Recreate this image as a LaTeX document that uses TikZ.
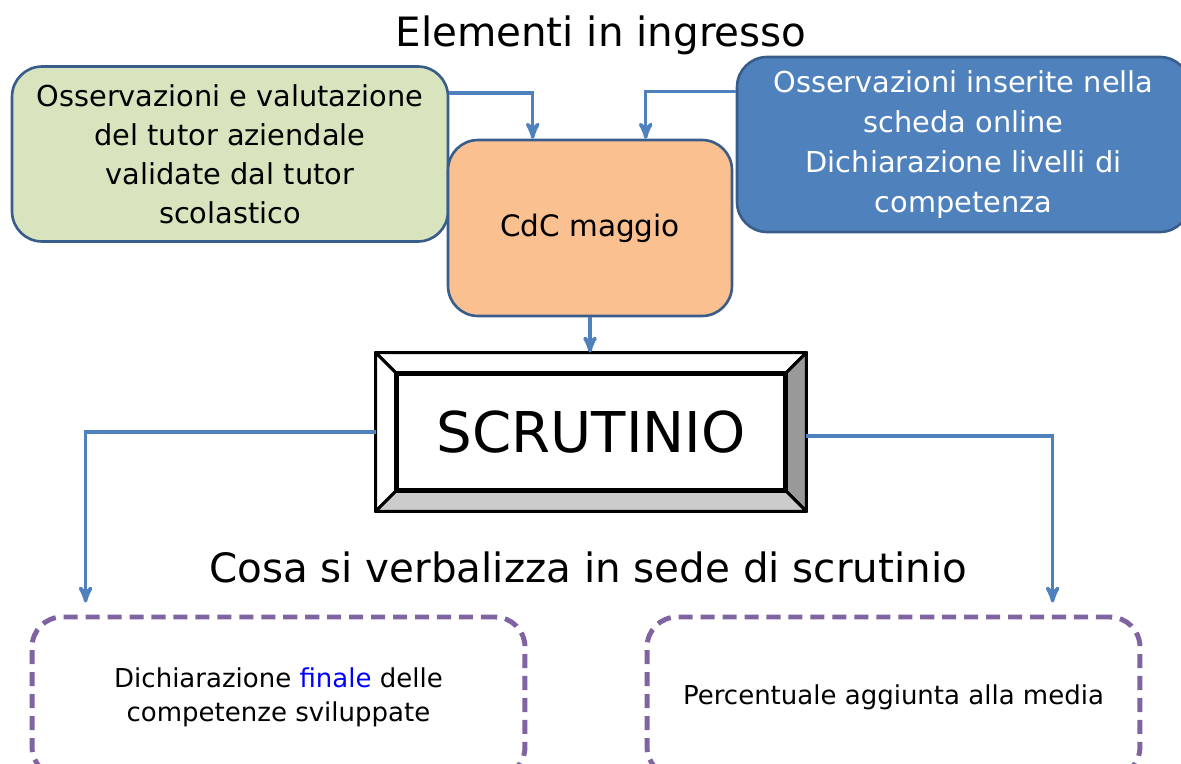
\documentclass[tikz,border=0pt]{standalone}
\usepackage{fontspec}
\setmainfont{DejaVu Sans}
\usetikzlibrary{arrows,calc}
\definecolor{tutorgreen}{HTML}{D7E4BD}
\definecolor{cdcorange}{HTML}{FAC090}
\definecolor{onlineblue}{HTML}{4F81BD}
\definecolor{boxline}{HTML}{385D8A}
\definecolor{flowblue}{HTML}{4F81BD}
\definecolor{verbpurple}{HTML}{8064A2}
\definecolor{bevelright}{HTML}{999999}
\definecolor{bevelbottom}{HTML}{CCCCCC}

\begin{document}
\begin{tikzpicture}[x=0.02cm,y=-0.02cm]
\tikzset{box/.style = {draw=boxline,line width=1.5pt,rounded corners=0.6cm,align=center,inner sep=0pt}}
\tikzset{verb/.style = {draw=verbpurple,line width=2.8pt,dash pattern=on 8pt off 4.5pt,rounded corners=0.6cm,align=center,
  minimum width=9.86cm,minimum height=3.2cm,font=\fontsize{14.8}{19.5}\selectfont}}
\tikzset{edge/.style = {->,> = {stealth'[scale=1.4]},draw=flowblue,line width=2pt}}
\tikzset{bevel/.style = {draw=black,line width=1.7pt,line join=round}}
\useasboundingbox (0,0) rectangle (1181,764);
\clip (0,0) rectangle (1181,764);
% titles
\node (title) at (601,35) {\fontsize{23}{26}\selectfont Elementi in ingresso};
\node (subtitle) at (588,567) {\fontsize{23}{26}\selectfont Cosa si verbalizza in sede di scrutinio};
% input boxes
\node[box,fill=tutorgreen,minimum width=8.72cm,minimum height=3.5cm,font=\fontsize{16.4}{22.2}\selectfont] (tutor) at (230,154)
  {Osservazioni e valutazione\\del tutor aziendale\\validate dal tutor\\scolastico};
\node[box,fill=onlineblue,text=white,minimum width=9.06cm,minimum height=3.5cm,font=\fontsize{16.4}{22.7}\selectfont] (online) at (963.5,144.5)
  {Osservazioni inserite nella\\scheda online\\Dichiarazione livelli di\\competenza};
\node[box,fill=cdcorange,minimum width=5.68cm,minimum height=3.52cm,font=\fontsize{16.8}{20}\selectfont] (cdc) at (590,228) {CdC maggio};
% scrutinio
\node[draw,line width=1.7pt,minimum width=7.76cm,minimum height=2.32cm,inner sep=0pt,font=\fontsize{32}{36}\selectfont] (scr) at (591,432) {SCRUTINIO};
\coordinate (o1) at ($(scr.north west)+(-20,-20)$);
\coordinate (o2) at ($(scr.north east)+(20,-20)$);
\coordinate (o3) at ($(scr.south east)+(20,20)$);
\coordinate (o4) at ($(scr.south west)+(-20,20)$);
\filldraw[bevel,fill=white] (o1) -- (o2) -- (scr.north east) -- (scr.north west) -- cycle;
\filldraw[bevel,fill=white] (o1) -- (scr.north west) -- (scr.south west) -- (o4) -- cycle;
\filldraw[bevel,fill=bevelright] (o2) -- (o3) -- (scr.south east) -- (scr.north east) -- cycle;
\filldraw[bevel,fill=bevelbottom] (o4) -- (o3) -- (scr.south east) -- (scr.south west) -- cycle;
\draw[bevel] (o1) rectangle (o3);
% output boxes
\node[verb] (final) at (278.5,697) {Dichiarazione \textcolor{blue}{finale} delle\\competenze sviluppate};
\node[verb] (media) at (893.5,697) {Percentuale aggiunta alla media};
% edges
\draw[edge] ($(tutor.north east)+(0,28)$) -| ($(cdc.north west)+(86,0)$);
\draw[edge] ($(online.north west)+(0,36)$) -| ($(cdc.north west)+(199,0)$);
\draw[edge] (cdc.south) -- (o1 -| cdc.south);
\draw[edge,shorten >=0.24cm] ($(scr.west)+(-20,0)$) -| ($(final.north west)+(56,0)$);
\draw[edge,shorten >=0.24cm] ($(scr.east)+(20,4)$) -| ($(media.north west)+(408,0)$);
\end{tikzpicture}
\end{document}
